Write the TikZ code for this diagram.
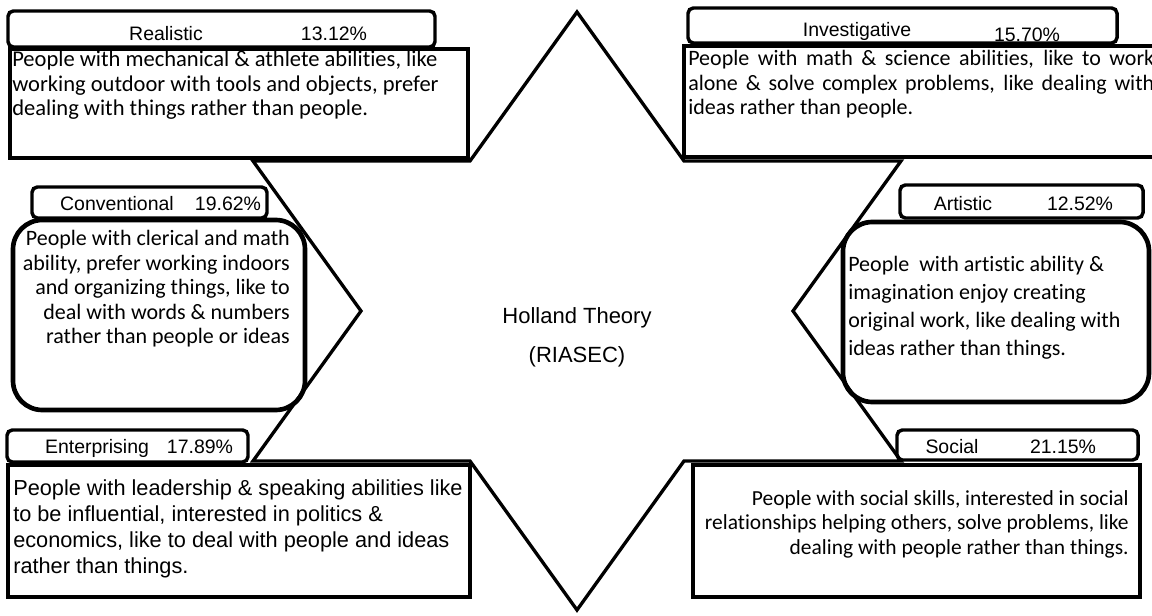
\documentclass[tikz,border=0pt]{standalone}
\usepackage{fontspec}
\setmainfont{Carlito}[Ligatures=NoCommon]
\newfontfamily\arialfont{Liberation Sans}
\tikzset{
    headbox/.style={line width=2.6pt, rounded corners=4pt, fill=white},
    descbox/.style={line width=3.5pt, fill=white},
    roundbox/.style={descbox, rounded corners=22pt},
    starline/.style={line width=2.5pt, line join=miter},
    headtext/.style={font=\arialfont\fontsize{14.6}{17}\selectfont, inner sep=0pt, anchor=base},
    bodytext/.style={font=\fontsize{16.5}{18.4}\selectfont, inner sep=0pt, align=left},
}

\begin{document}
\begin{tikzpicture}[x=0.75pt, y=-0.75pt]
    \useasboundingbox (0, 0) rectangle (1152, 616);
    % boxes
    \draw[headbox] (8, 11) rectangle (435, 47);
    \draw[descbox] (10, 49) rectangle (468, 158);
    \draw[headbox] (688, 8) rectangle (1117, 43);
    \draw[descbox] (684, 46) rectangle (1168, 157);
    \draw[headbox] (32, 187) rectangle (267, 218);
    \draw[roundbox] (13, 220) rectangle (305, 410);
    \draw[headbox] (900, 185) rectangle (1143, 218);
    \draw[roundbox] (843, 222) rectangle (1149, 402);
    \draw[headbox] (7, 430) rectangle (248, 462);
    \draw[descbox] (8, 465) rectangle (470, 597);
    \draw[headbox] (897, 430) rectangle (1138, 460);
    \draw[descbox] (693, 465) rectangle (1140, 597);
    % star
    \draw[starline] (577, 12) -- (684, 161) -- (901, 161) -- (793, 311)
        -- (901, 461) -- (684, 461) -- (577, 610) -- (470, 461)
        -- (253, 461) -- (361, 311) -- (253, 161) -- (470, 161) -- cycle;
    % headers
    \node[headtext] (realname) at (166, 41) {Realistic};
    \node[headtext] (realpct) at (334, 41) {13.12\%};
    \node[headtext] (invname) at (857, 37) {Investigative};
    \node[headtext] (invpct) at (1027, 42) {15.70\%};
    \node[headtext] (convname) at (117, 211) {Conventional};
    \node[headtext] (convpct) at (228, 211) {19.62\%};
    \node[headtext] (artname) at (963, 211) {Artistic};
    \node[headtext] (artpct) at (1080, 211) {12.52\%};
    \node[headtext] (entname) at (97, 453) {Enterprising};
    \node[headtext] (entpct) at (200, 453) {17.89\%};
    \node[headtext] (socname) at (952, 453) {Social};
    \node[headtext] (socpct) at (1063, 453) {21.15\%};
    % descriptions
    \node[bodytext, font=\fontsize{16.9}{18.4}\selectfont, anchor=north west] (realtext) at (12, 51)
        {People with mechanical \& athlete abilities, like\\
         working outdoor with tools and objects, prefer\\
         dealing with things rather than people.};
    \node[bodytext, anchor=north west] (invtext) at (688, 50)
        {\makebox[349.5pt][s]{People with math \& science abilities, like to work}\\
         \makebox[349.5pt][s]{alone \& solve complex problems, like dealing with}\\
         ideas rather than people.};
    \node[bodytext, align=right, anchor=north east] (convtext) at (290, 230)
        {People with clerical and math\\
         ability, prefer working indoors\\
         and organizing things, like to\\
         deal with words \& numbers\\
         rather than people or ideas};
    \node[bodytext, font=\fontsize{16.5}{21}\selectfont, anchor=north west] (arttext) at (848, 256)
        {People\ \ with artistic ability \&\\
         imagination enjoy creating\\
         original work, like dealing with\\
         ideas rather than things.};
    \node[bodytext, font=\arialfont\fontsize{16.3}{19.7}\selectfont, anchor=north west] (enttext) at (13, 479)
        {People with leadership \& speaking abilities like\\
         to be influential, interested in politics \&\\
         economics, like to deal with people and ideas\\
         rather than things.};
    \node[bodytext, font=\fontsize{16.1}{18.4}\selectfont, align=right, anchor=north east] (soctext) at (1129, 490)
        {People with social skills, interested in social\\
         relationships helping others, solve problems, like\\
         dealing with people rather than things.};
    % centre
    \node[font=\arialfont\fontsize{16.5}{29.3}\selectfont, align=center, inner sep=0pt] (centre) at (577, 337)
        {Holland Theory\\(RIASEC)};
\end{tikzpicture}
\end{document}
